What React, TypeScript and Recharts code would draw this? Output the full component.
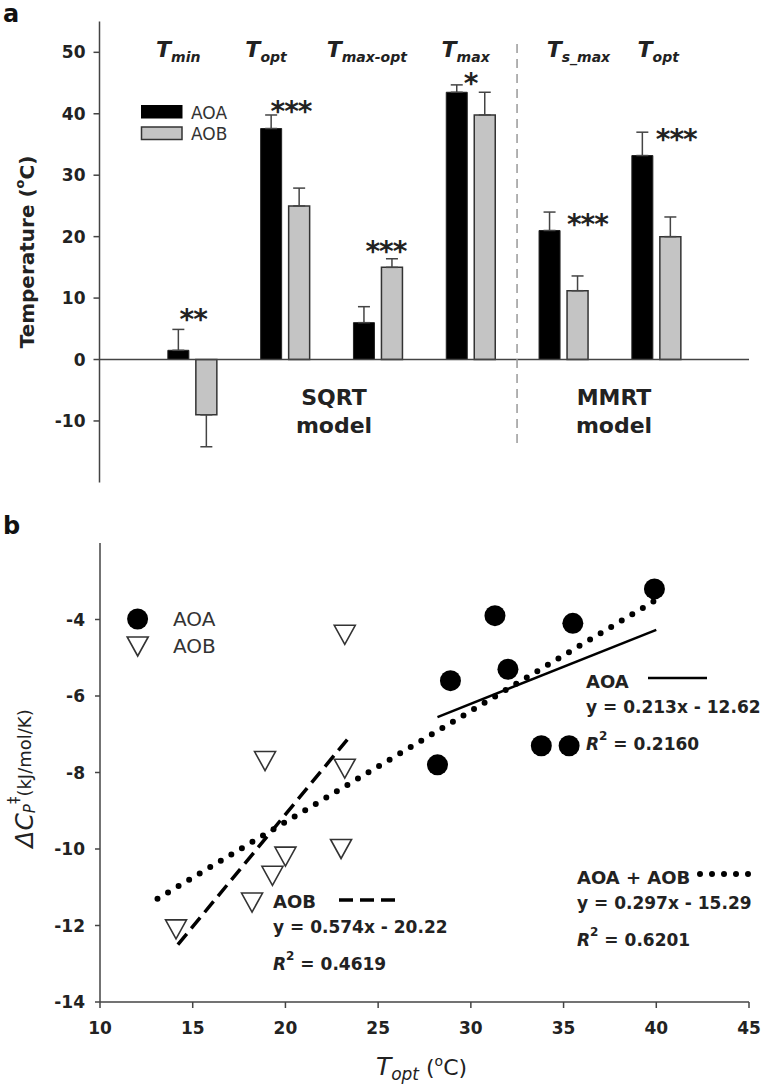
import React from "react";
import {
  BarChart,
  Bar,
  XAxis,
  YAxis,
  ErrorBar,
  ReferenceLine,
  ReferenceDot,
  ScatterChart,
  Scatter,
} from "recharts";

const FONT = '"DejaVu Sans", "Liberation Sans", sans-serif';

// ---- panel a: cardinal temperatures (SQRT / MMRT models)
const categories = ["Tmin", "Topt", "Tmax-opt", "Tmax", "Ts_max", "Topt (MMRT)"];
const subscripts = ["min", "opt", "max-opt", "max", "s_max", "opt"];
const aoaMean = [1.5, 37.6, 6.0, 43.5, 21.0, 33.2];
const aoaSE = [3.4, 2.2, 2.6, 1.2, 3.0, 3.8];
const aobMean = [-9.0, 25.0, 15.0, 39.8, 11.2, 20.0];
const aobSE = [5.2, 2.9, 1.4, 3.7, 2.4, 3.2];
const stars = ["**", "***", "***", "*", "***", "***"];
const starLevel = [7.6, 41.4, 18.6, 46.0, 23.0, 36.8];
const tempTicks = [-10, 0, 10, 20, 30, 40, 50];
const headerLevel = 50;

// ---- panel b: heat capacity vs Topt
const aoaTopt = [28.2, 28.9, 31.3, 32.0, 33.8, 35.3, 35.5, 39.9];
const aoaCp = [-7.8, -5.6, -3.9, -5.3, -7.3, -7.3, -4.1, -3.2];
const aobTopt = [14.1, 18.2, 18.9, 19.3, 20.0, 23.0, 23.2, 23.2];
const aobCp = [-12.1, -11.4, -7.7, -10.7, -10.2, -10.0, -7.9, -4.4];
const aoaFitX = [28.2, 40.0];
const aoaFitY = [-6.55, -4.27];
const aobFitX = [14.2, 23.4];
const aobFitY = [-12.5, -7.1];
const allFitX = [13.1, 40.3];
const allFitY = [-11.3, -3.4];
const toptTicks = [10, 15, 20, 25, 30, 35, 40, 45];
const cpTicks = [-14, -12, -10, -8, -6, -4];

// label nudges (px) so the italic headers and stars sit like the original
const headerShift = [-14, -19, -11, -5, 15, 2];
const starShift = [1, 6, 8, 0, 24, 20];

const barData = categories.map((name, i) => ({
  name,
  aoa: aoaMean[i],
  aob: aobMean[i],
  aoaErr: aoaMean[i] >= 0 ? [0, aoaSE[i]] : [aoaSE[i], 0],
  aobErr: aobMean[i] >= 0 ? [0, aobSE[i]] : [aobSE[i], 0],
}));

const pts = (xs: number[], ys: number[]) => xs.map((x, i) => ({ x, y: ys[i] }));
const aoaPts = pts(aoaTopt, aoaCp);
const aobPts = pts(aobTopt, aobCp);

const axisStyle = { stroke: "#444", strokeWidth: 1.5 };
const tickStyle = { fontSize: 17, fontWeight: "bold", fill: "#222" };

function TempLabel(props: any) {
  const { viewBox } = props;
  const cx = viewBox.x + 17;
  const cy = viewBox.y + viewBox.height / 2;
  return (
    <text
      x={cx}
      y={cy}
      transform={`rotate(-90 ${cx} ${cy})`}
      textAnchor="middle"
      dominantBaseline="central"
      fontSize={20}
      fontWeight="bold"
      fill="#222"
    >
      Temperature (<tspan fontSize={13} dy={-8}>o</tspan>
      <tspan dy={8}>C)</tspan>
    </text>
  );
}

function TemperatureBars() {
  return (
    <BarChart
      width={766}
      height={490}
      data={barData}
      barGap={7}
      margin={{ top: 21.6, right: 17, bottom: 7.6, left: 10 }}
    >
      <XAxis
        xAxisId="cat"
        dataKey="name"
        hide
        interval={0}
        padding={{ left: 46.35, right: 46.35 }}
      />
      <YAxis
        domain={[-20, 55]}
        ticks={tempTicks}
        width={89.5}
        axisLine={axisStyle}
        tickLine={axisStyle}
        tickSize={6}
        tickMargin={8}
        tick={tickStyle}
        label={(p: any) => <TempLabel {...p} />}
      />
      <Bar
        xAxisId="cat"
        dataKey="aoa"
        barSize={21}
        fill="#000"
        stroke="#222"
        strokeWidth={1}
        isAnimationActive={false}
      >
        <ErrorBar dataKey="aoaErr" width={6} stroke="#444" strokeWidth={1.5} direction="y" />
      </Bar>
      <Bar
        xAxisId="cat"
        dataKey="aob"
        barSize={21}
        fill="#c4c4c4"
        stroke="#333"
        strokeWidth={1.5}
        isAnimationActive={false}
      >
        <ErrorBar dataKey="aobErr" width={6} stroke="#444" strokeWidth={1.5} direction="y" />
      </Bar>
      <ReferenceLine xAxisId="cat" y={0} stroke="#444" strokeWidth={1.5} />
      <ReferenceLine
        xAxisId="cat"
        position="end"
        segment={[
          { x: "Tmax", y: -13.6 },
          { x: "Tmax", y: 51.7 },
        ]}
        stroke="#999"
        strokeWidth={1.5}
        strokeDasharray="9 6"
      />
      {categories.map((c, i) => (
        <ReferenceDot
          key={"h" + c}
          xAxisId="cat"
          x={c}
          y={headerLevel}
          r={0}
          shape={(p: any) => (
            <text
              x={p.cx + headerShift[i]}
              y={p.cy + 4.5}
              textAnchor="middle"
              fontWeight="bold"
              fontStyle="italic"
              fill="#222"
            >
              <tspan fontSize={22}>T</tspan>
              <tspan fontSize={14} dy={5}>
                {subscripts[i]}
              </tspan>
            </text>
          )}
        />
      ))}
      {categories.map((c, i) => (
        <ReferenceDot
          key={"s" + c}
          xAxisId="cat"
          x={c}
          y={starLevel[i]}
          r={0}
          shape={(p: any) => (
            <text
              x={p.cx + starShift[i]}
              y={p.cy + 16}
              textAnchor="middle"
              fontSize={28}
              fontWeight="bold"
              letterSpacing={-1}
              fill="#222"
            >
              {stars[i]}
            </text>
          )}
        />
      ))}
    </BarChart>
  );
}

function CpLabel(props: any) {
  const { viewBox } = props;
  const cx = viewBox.x + 14;
  const cy = viewBox.y + viewBox.height / 2 + 6;
  return (
    <text
      x={cx}
      y={cy}
      transform={`rotate(-90 ${cx} ${cy})`}
      textAnchor="middle"
      dominantBaseline="central"
      fill="#222"
    >
      <tspan fontSize={25} fontStyle="italic">ΔC</tspan>
      <tspan fontSize={15} fontStyle="italic" dy={6}>P</tspan>
      <tspan fontSize={15} dy={-16}>‡</tspan>
      <tspan fontSize={18} dy={10}>(kJ/mol/K)</tspan>
    </text>
  );
}

function ToptLabel(props: any) {
  const { viewBox } = props;
  const cx = viewBox.x + viewBox.width / 2 - 3;
  const y = viewBox.y + 73;
  return (
    <text x={cx} y={y} textAnchor="middle" fill="#222">
      <tspan fontSize={25} fontStyle="italic">T</tspan>
      <tspan fontSize={17} fontStyle="italic" dy={5}>opt</tspan>
      <tspan fontSize={22} dy={-5}> (</tspan>
      <tspan fontSize={14} dy={-9}>o</tspan>
      <tspan fontSize={22} dy={9}>C)</tspan>
    </text>
  );
}

const Dot = (p: any) => <circle cx={p.cx} cy={p.cy} r={10.5} fill="#000" />;
const Tri = (p: any) => (
  <path
    d={`M${p.cx - 10.5},${p.cy - 9.5}L${p.cx + 10.5},${p.cy - 9.5}L${p.cx},${p.cy + 9.5}Z`}
    fill="#fff"
    stroke="#333"
    strokeWidth={1.6}
  />
);
const NoMark = () => <g />;

function HeatCapacityScatter() {
  return (
    <ScatterChart width={766} height={600} margin={{ top: 53, right: 17, bottom: 18, left: 10 }}>
      <XAxis
        type="number"
        dataKey="x"
        domain={[10, 45]}
        ticks={toptTicks}
        height={70}
        axisLine={axisStyle}
        tickLine={axisStyle}
        tickSize={6}
        tickMargin={14}
        tick={tickStyle}
        label={(p: any) => <ToptLabel {...p} />}
      />
      <YAxis
        type="number"
        dataKey="y"
        domain={[-14, -2]}
        ticks={cpTicks}
        width={90}
        axisLine={axisStyle}
        tickLine={axisStyle}
        tickSize={5}
        tickMargin={10}
        tick={tickStyle}
        label={(p: any) => <CpLabel {...p} />}
      />
      <Scatter data={aoaPts} shape={Dot} isAnimationActive={false} />
      <Scatter data={aobPts} shape={Tri} isAnimationActive={false} />
      <Scatter
        data={pts(aoaFitX, aoaFitY)}
        shape={NoMark}
        line={{ stroke: "#000", strokeWidth: 2.5 }}
        isAnimationActive={false}
      />
      <Scatter
        data={pts(aobFitX, aobFitY)}
        shape={NoMark}
        line={{ stroke: "#000", strokeWidth: 3.5, strokeDasharray: "14 7" }}
        isAnimationActive={false}
      />
      <Scatter
        data={pts(allFitX, allFitY)}
        shape={NoMark}
        line={{ stroke: "#000", strokeWidth: 6, strokeDasharray: "0 12.3", strokeLinecap: "round" }}
        isAnimationActive={false}
      />
    </ScatterChart>
  );
}

function Fit({ x, y, name, eq, r2 }: { x: number; y: number; name: string; eq: string; r2: string }) {
  return (
    <g fontWeight="bold" fill="#222">
      <text x={x} y={y} fontSize={18}>{name}</text>
      <text x={x} y={y + 25} fontSize={17}>{eq}</text>
      <text x={x} y={y + 62} fontSize={17}>
        <tspan fontStyle="italic">R</tspan>
        <tspan fontSize={12} dy={-10}>2</tspan>
        <tspan dy={10}> = {r2}</tspan>
      </text>
    </g>
  );
}

export default function App() {
  return (
    <div
      style={{
        position: "absolute",
        left: 0,
        top: 0,
        width: 766,
        height: 1090,
        background: "#fff",
        fontFamily: FONT,
      }}
    >
      <div style={{ position: "absolute", left: 0, top: 0 }}>
        <TemperatureBars />
      </div>
      <div style={{ position: "absolute", left: 0, top: 490 }}>
        <HeatCapacityScatter />
      </div>
      <svg
        width={766}
        height={1090}
        style={{ position: "absolute", left: 0, top: 0, pointerEvents: "none", fontFamily: FONT }}
      >
        <text x={3} y={22} fontSize={24} fontWeight="bold" fill="#111">a</text>
        <text x={3} y={534} fontSize={24} fontWeight="bold" fill="#111">b</text>

        {/* panel a legend */}
        <rect x={141} y={105} width={41.5} height={13.5} fill="#000" />
        <rect x={141.5} y={127} width={40.5} height={12.5} fill="#c4c4c4" stroke="#333" strokeWidth={1.5} />
        <text x={191} y={119} fontSize={17} fill="#333">AOA</text>
        <text x={191} y={139.5} fontSize={17} fill="#333">AOB</text>

        <g fontSize={22} fontWeight="bold" fill="#222" textAnchor="middle">
          <text x={334} y={405}>SQRT</text>
          <text x={334} y={433}>model</text>
          <text x={614} y={405}>MMRT</text>
          <text x={614} y={433}>model</text>
        </g>

        {/* panel b legend */}
        <circle cx={137.6} cy={619} r={10.5} fill="#000" />
        <path d="M127.2,637L148.2,637L137.7,656Z" fill="#fff" stroke="#333" strokeWidth={1.6} />
        <text x={173} y={626} fontSize={20} fill="#333">AOA</text>
        <text x={173} y={653} fontSize={20} fill="#333">AOB</text>

        <Fit x={586} y={688} name="AOA" eq="y = 0.213x - 12.62" r2="0.2160" />
        <line x1={648} y1={678} x2={707} y2={678} stroke="#000" strokeWidth={2.5} />
        <Fit x={273} y={908} name="AOB" eq="y = 0.574x - 20.22" r2="0.4619" />
        <line x1={339} y1={900} x2={398} y2={900} stroke="#000" strokeWidth={3.5} strokeDasharray="14 7" />
        <Fit x={577} y={884} name="AOA + AOB" eq="y = 0.297x - 15.29" r2="0.6201" />
        <line
          x1={700}
          y1={874}
          x2={754}
          y2={874}
          stroke="#000"
          strokeWidth={6}
          strokeDasharray="0 12"
          strokeLinecap="round"
        />
      </svg>
    </div>
  );
}
